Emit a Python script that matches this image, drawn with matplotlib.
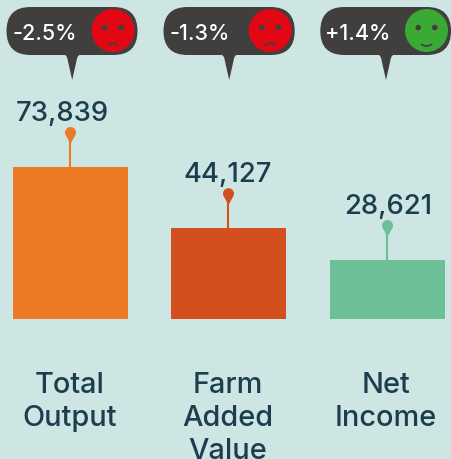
import matplotlib
matplotlib.use('Agg')
import matplotlib.pyplot as plt
from matplotlib.patches import Circle, FancyBboxPatch, PathPatch, Arc
from matplotlib.path import Path

categories = ['Total\nOutput', 'Farm\nAdded\nValue', 'Net\nIncome']
values = [73839, 44127, 28621]
changes = ['-2.5%', '-1.3%', '+1.4%']
bar_colors = ['#ec7a24', '#d44f1e', '#6dbf97']

BG = '#cde6e4'
DARK = '#403f3d'
NAVY = '#1b3d4d'
W, H = 452, 460
BASE = 319.5
SCALE = 152 / 73839  # px per unit

plt.rcParams['font.family'] = ['Inter', 'DejaVu Sans']

fig = plt.figure(figsize=(W / 100, H / 100), dpi=100, facecolor=BG)

# pixel centre of each bar
centres = [70.5, 228.5, 387.5]

# bars, in data units
ax = fig.add_axes([0, 0, 1, 1])
ax.set_xlim(0, W)
ax.set_ylim(-(H - BASE) / SCALE, BASE / SCALE)
ax.axis('off')
ax.bar(centres, values, width=115, color=bar_colors)

# everything else is placed in pixels
pax = fig.add_axes([0, 0, 1, 1])
pax.set_xlim(0, W)
pax.set_ylim(H, 0)
pax.axis('off')
pax.patch.set_alpha(0)


def draw_bubble(left, right, tip, label, text_x, good):
    pax.add_patch(FancyBboxPatch((left, 8), right - left, 48,
                                 boxstyle='round,pad=0,rounding_size=24',
                                 fc=DARK, ec='none'))
    verts = [(tip - 9.5, 55), (tip - 5, 56), (tip - 4.5, 61), (tip, 81),
             (tip + 4.5, 61), (tip + 5, 56), (tip + 9.5, 55), (tip - 9.5, 55)]
    codes = [Path.MOVETO, Path.CURVE3, Path.CURVE3, Path.LINETO,
             Path.LINETO, Path.CURVE3, Path.CURVE3, Path.CLOSEPOLY]
    pax.add_patch(PathPatch(Path(verts, codes), fc=DARK, ec='none'))
    pax.text(text_x, 40, label, color='white', fontsize=15.5,
             ha='left', va='baseline', fontweight='medium')

    # face
    cx = right - 24.5
    cy = 31.5
    pax.add_patch(Circle((cx, cy), 21.5, fc='#3aaa35' if good else '#e30613', ec='none'))
    for dx in (-8.3, 8.3):
        pax.add_patch(Circle((cx + dx, cy - 3), 2.8, fc=DARK, ec='none'))
    # y axis is inverted, so angles run the other way round
    if good:
        pax.add_patch(Arc((cx, cy + 11.5), 12, 8, theta1=20, theta2=160, color=DARK, lw=1.2))
    else:
        pax.add_patch(Arc((cx, cy + 17.5), 12, 9, theta1=200, theta2=340, color=DARK, lw=1.2))


bubble_left = [6.5, 163.5, 320.3]
bubble_right = [137.5, 294.7, 451]
text_left = [13, 170, 325.5]
for i in range(3):
    draw_bubble(bubble_left[i], bubble_right[i], bubble_left[i] + 65.7,
                changes[i], text_left[i], changes[i].startswith('+'))

# pins and value labels
label_x = [62.5, 228, 388]
for i, v in enumerate(values):
    x = centres[i]
    top = BASE - v * SCALE
    head = top - 34
    pax.plot([x, x], [top, head], color=bar_colors[i], lw=1.5, solid_capstyle='butt')
    pax.add_patch(Circle((x, head), 5.5, fc=bar_colors[i], ec='none'))
    tail = [(x - 4.2, head + 3.5), (x + 4.2, head + 3.5), (x + 0.8, head + 10), (x - 0.8, head + 10)]
    pax.fill([p[0] for p in tail], [p[1] for p in tail], color=bar_colors[i], lw=0)
    pax.text(label_x[i], head - 12.5, f'{v:,}', color=NAVY, fontsize=19.8,
             ha='center', va='baseline', fontweight='medium')

# category labels
cat_x = [70, 228, 386]
for i, name in enumerate(categories):
    for j, line in enumerate(name.split('\n')):
        pax.text(cat_x[i], 393 + 33 * j, line, color=NAVY, fontsize=20.8,
                 ha='center', va='baseline', fontweight='medium')

fig.savefig('out.png', dpi=100, facecolor=BG)
